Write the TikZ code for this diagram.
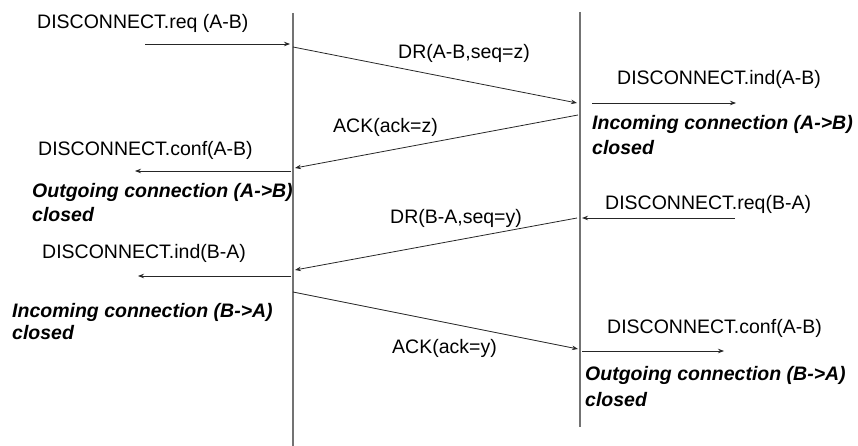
\documentclass[tikz,border=0pt]{standalone}
\usepackage{fontspec}
\setmainfont{Liberation Sans}
\usetikzlibrary{arrows.meta}
\tikzset{
  lifeline/.style={draw=black!55, line width=1.1pt},
  msg/.style={draw=black!85, line width=0.8pt, -{Stealth[length=6pt,width=4.5pt]}},
  lbl/.style={anchor=base west, inner sep=0pt, font=\fontsize{19.5}{23}\selectfont, text=black},
  state/.style={lbl, font=\fontsize{19.5}{23}\selectfont\bfseries\itshape}
}
\begin{document}
\begin{tikzpicture}[x=1pt,y=-1pt]
\useasboundingbox (0,0) rectangle (858,446);
% lifelines
\coordinate (Atop) at (293,13);
\coordinate (Abot) at (293,446);
\coordinate (Btop) at (580,12);
\coordinate (Bbot) at (580,427);
\draw[lifeline] (Atop) -- (Abot);
\draw[lifeline] (Btop) -- (Bbot);
% message end points
\coordinate (s1) at (145,44);   \coordinate (e1) at (290,44);
\coordinate (s2) at (293,47);   \coordinate (e2) at (577,103);
\coordinate (s3) at (592,103);  \coordinate (e3) at (736,103);
\coordinate (s4) at (578,115);  \coordinate (e4) at (295,168);
\coordinate (s5) at (291,171);  \coordinate (e5) at (135,171);
\coordinate (s6) at (577,218);  \coordinate (e6) at (295,270);
\coordinate (s7) at (735,218);  \coordinate (e7) at (582,218);
\coordinate (s8) at (291,276);  \coordinate (e8) at (138,276);
\coordinate (s9) at (293,292);  \coordinate (e9) at (578,349);
\coordinate (s10) at (582,351); \coordinate (e10) at (724,351);
\draw[msg] (s1) -- (e1);
\draw[msg] (s2) -- (e2);
\draw[msg] (s3) -- (e3);
\draw[msg] (s4) -- (e4);
\draw[msg] (s5) -- (e5);
\draw[msg] (s6) -- (e6);
\draw[msg] (s7) -- (e7);
\draw[msg] (s8) -- (e8);
\draw[msg] (s9) -- (e9);
\draw[msg] (s10) -- (e10);
% labels
\node[lbl] (t1) at (37,29) {DISCONNECT.req (A-B)};
\node[lbl] (t2) at (398,59) {DR(A-B,seq=z)};
\node[lbl] (t3) at (617,85) {DISCONNECT.ind(A-B)};
\node[state] (t4a) at (592,130) {Incoming connection (A->B)};
\node[state] (t4b) at (592,155) {closed};
\node[lbl] (t5) at (333,133) {ACK(ack=z)};
\node[lbl] (t6) at (38,156) {DISCONNECT.conf(A-B)};
\node[state] (t7a) at (32,198) {Outgoing connection (A->B)};
\node[state] (t7b) at (32,222) {closed};
\node[lbl] (t8) at (390,223) {DR(B-A,seq=y)};
\node[lbl] (t9) at (605,210) {DISCONNECT.req(B-A)};
\node[lbl] (t10) at (42,258) {DISCONNECT.ind(B-A)};
\node[state] (t11a) at (12,317) {Incoming connection (B->A)};
\node[state] (t11b) at (12,339) {closed};
\node[lbl] (t12) at (392,353) {ACK(ack=y)};
\node[lbl] (t13) at (607,333) {DISCONNECT.conf(A-B)};
\node[state] (t14a) at (585,380) {Outgoing connection (B->A)};
\node[state] (t14b) at (585,406) {closed};
\end{tikzpicture}
\end{document}
